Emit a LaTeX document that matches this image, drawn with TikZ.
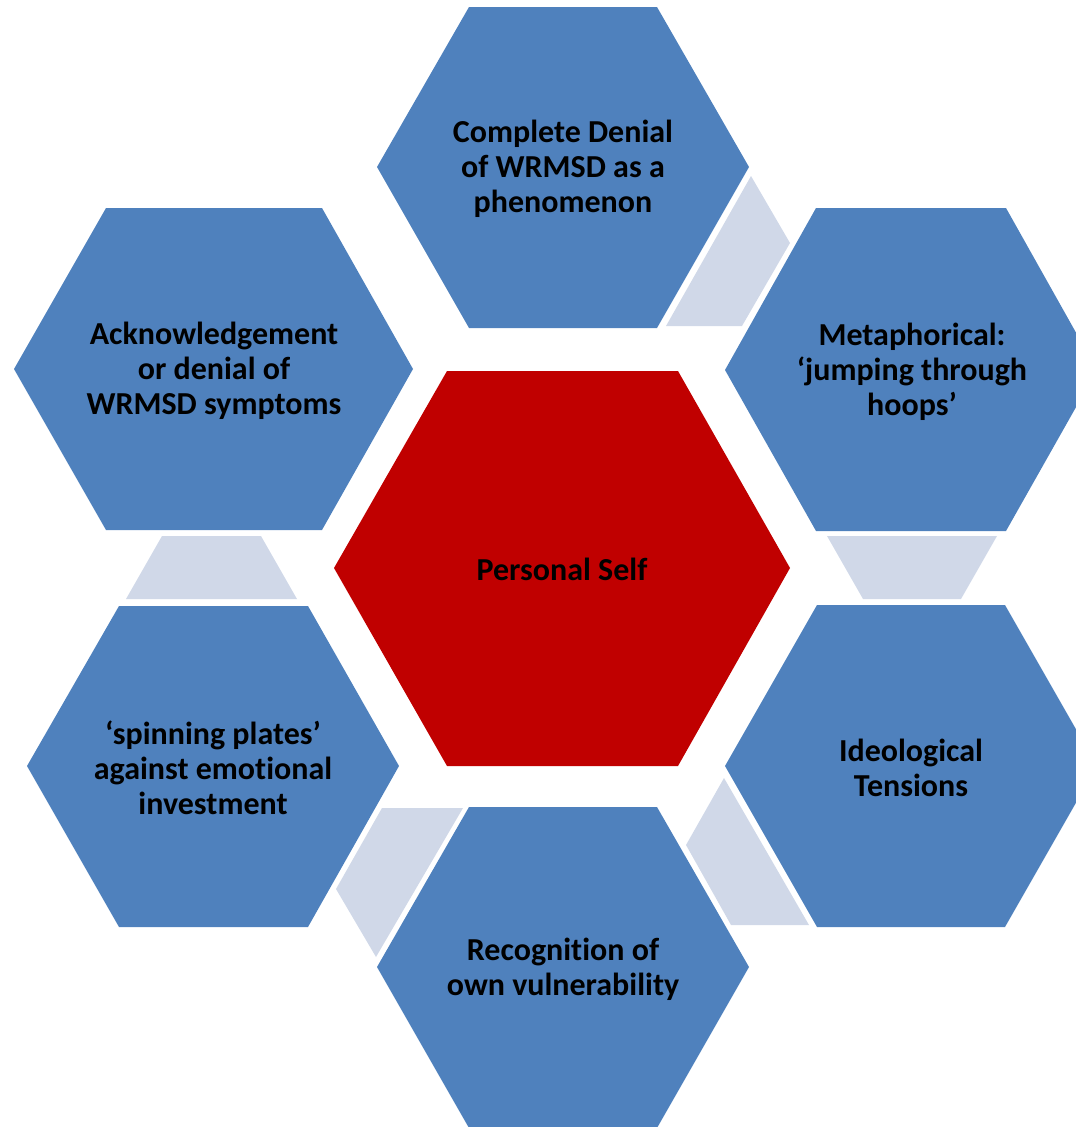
\documentclass[tikz,border=0pt]{standalone}
\usepackage{fontspec}
\setmainfont{Carlito}[Ligatures=NoCommon]
\definecolor{hexblue}{RGB}{79,129,189}
\definecolor{hexred}{RGB}{192,0,0}
\definecolor{linkgray}{RGB}{208,216,232}
\tikzset{
  hexblue/.style={fill=hexblue, draw=none},
  hexcore/.style={fill=hexred, draw=none},
  linkshape/.style={fill=linkgray, draw=none},
  label/.style={text=black, align=center, inner sep=0pt, font=\bfseries\fontsize{32}{35}\selectfont}
}
\begin{document}
\begin{tikzpicture}[x=1pt,y=-1pt]
\useasboundingbox (0,0) rectangle (1076,1127);
\clip (0,0) rectangle (1076,1127);
% connector shapes
\fill[linkshape] (666,326) -- (751,176) -- (790,243) -- (742,326) -- cycle;
\fill[linkshape] (827,536) -- (997,536) -- (961,599) -- (863,599) -- cycle;
\fill[linkshape] (724,778) -- (686,845) -- (731,925) -- (809,925) -- cycle;
\fill[linkshape] (382,808) -- (463,808) -- (376,957) -- (336,889) -- cycle;
\fill[linkshape] (162,536) -- (261,536) -- (297,599) -- (126,599) -- cycle;
% centre hexagon
\fill[hexcore] (334,568) -- (447,371) -- (678,371) -- (790,568) -- (678,766) -- (447,766) -- cycle;
% outer hexagons
\fill[hexblue] (377,167) -- (469,7) -- (657,7) -- (749,167) -- (657,328) -- (469,328) -- cycle;
\fill[hexblue] (725,370) -- (816,208) -- (1006,208) -- (1097,370) -- (1006,531) -- (816,531) -- cycle;
\fill[hexblue] (725,766) -- (817,605) -- (1005,605) -- (1097,766) -- (1005,927) -- (817,927) -- cycle;
\fill[hexblue] (377,967) -- (469,807) -- (657,807) -- (749,967) -- (657,1128) -- (469,1128) -- cycle;
\fill[hexblue] (27,766) -- (119,606) -- (308,606) -- (399,766) -- (308,927) -- (119,927) -- cycle;
\fill[hexblue] (14,369) -- (106,208) -- (322,208) -- (413,369) -- (322,530) -- (106,530) -- cycle;
% labels
\node[label] (core) at (562,569) {Personal Self};
\node[label] (top) at (563,169) {Complete Denial\\of WRMSD as a\\phenomenon};
\node[label] (topright) at (912,372) {Metaphorical:\\‘jumping through\\hoops’};
\node[label] (lowright) at (911,768) {Ideological\\Tensions};
\node[label] (bottom) at (563,969) {Recognition of\\own vulnerability};
\node[label] (lowleft) at (213,768) {‘spinning plates’\\against emotional\\investment};
\node[label] (topleft) at (214,371) {Acknowledgement\\or denial of\\WRMSD symptoms};
\end{tikzpicture}
\end{document}
